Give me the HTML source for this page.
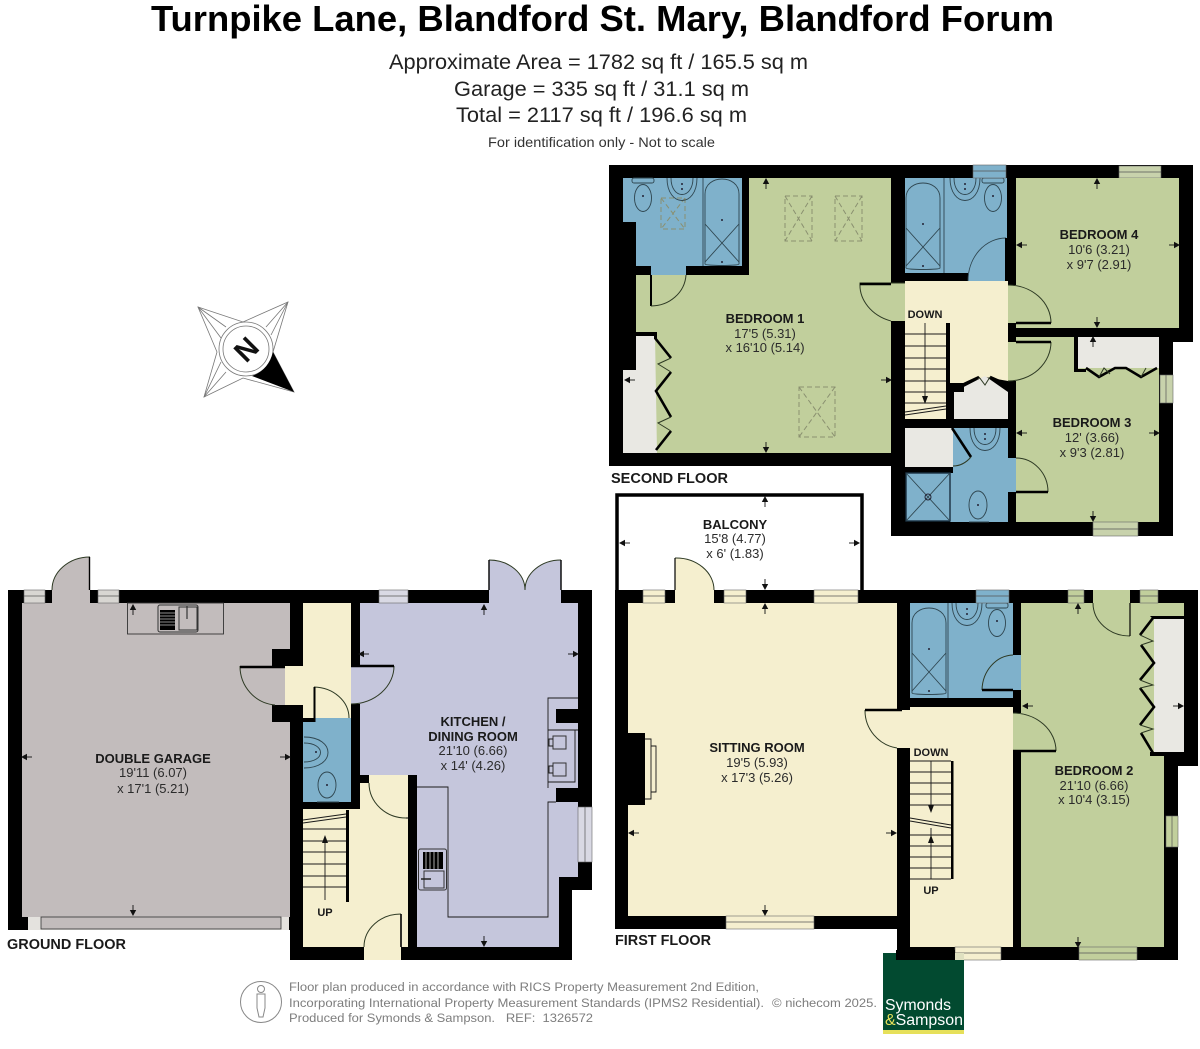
<!DOCTYPE html>
<html><head><meta charset="utf-8"><style>
html,body{margin:0;padding:0;background:#fff;width:1200px;height:1049px;overflow:hidden}
svg{display:block}
text{font-family:"Liberation Sans",sans-serif}
.t{font-size:13px;fill:#2b2b2b;text-anchor:middle}
.b{font-size:13px;font-weight:bold;fill:#1a1a1a;text-anchor:middle}
.f{font-size:14.5px;font-weight:bold;fill:#1a1a1a}
.g{font-size:12.4px;fill:#7d7d7d}
.l{fill:none;stroke:#1a1a1a;stroke-width:.9}
.d{fill:none;stroke:#2e3a24;stroke-width:1}
.k{fill:none;stroke:#000;stroke-width:2.6}
.n{fill:none;stroke:#2f4650;stroke-width:.9}
.sky{fill:none;stroke:#8a9070;stroke-width:1;stroke-dasharray:5 3}
.w{stroke:#555;stroke-width:.7}
.o{stroke:#666;stroke-width:.6}
</style></head><body>
<svg width="1200" height="1049" viewBox="0 0 1200 1049" xmlns="http://www.w3.org/2000/svg">
<defs>
<g id="au"><path d="M0,-5 L3.2,1 H-3.2Z" fill="#111"/><path d="M0,0V6" stroke="#111" stroke-width=".9"/></g>
<g id="ad"><path d="M0,5 L3.2,-1 H-3.2Z" fill="#111"/><path d="M0,0V-6" stroke="#111" stroke-width=".9"/></g>
<g id="al"><path d="M-5,0 L1,3.2 V-3.2Z" fill="#111"/><path d="M0,0H6" stroke="#111" stroke-width=".9"/></g>
<g id="ar"><path d="M5,0 L-1,3.2 V-3.2Z" fill="#111"/><path d="M0,0H-6" stroke="#111" stroke-width=".9"/></g>
<g id="bath"><path class="n" d="M0,86V16C0,-4 34,-4 34,16V86C34,88 0,88 0,86Z"/><path class="n" d="M0,84L34,46M34,84L0,46"/><circle cx="17" cy="42" r="1" fill="#223"/><circle cx="17" cy="84" r="1" fill="#223"/></g>
<g id="toilet"><rect class="n" x="-11" y="0" width="22" height="5" rx="2"/><ellipse class="n" cx="0" cy="20" rx="8.5" ry="13.5"/><circle cx="0" cy="18" r="1" fill="#223"/></g>
<g id="basin"><path class="n" d="M-15,0C-15,30 15,30 15,0"/><path class="n" d="M-11,0C-11,22 11,22 11,0"/><circle cx="0" cy="6" r="1" fill="#223"/><circle cx="0" cy="11" r="1" fill="#223"/></g>
</defs>

<!-- TITLE -->
<text x="151" y="31" font-size="36" font-weight="bold" fill="#000" textLength="903" lengthAdjust="spacingAndGlyphs">Turnpike Lane, Blandford St. Mary, Blandford Forum</text>
<text x="389" y="69" font-size="21" fill="#222" textLength="419" lengthAdjust="spacingAndGlyphs">Approximate Area = 1782 sq ft / 165.5 sq m</text>
<text x="454" y="96" font-size="21" fill="#222" textLength="295" lengthAdjust="spacingAndGlyphs">Garage = 335 sq ft / 31.1 sq m</text>
<text x="456" y="122" font-size="21" fill="#222" textLength="291" lengthAdjust="spacingAndGlyphs">Total = 2117 sq ft / 196.6 sq m</text>
<text x="488" y="147" font-size="14" fill="#333" textLength="227" lengthAdjust="spacingAndGlyphs">For identification only - Not to scale</text>

<!-- COMPASS -->
<g fill="#fff" stroke="#777" stroke-width=".8">
<path d="M198,307L243,322L288,302L273,352L294,392L243,378L204,397L217,352Z"/>
<path fill="none" d="M198,307L226,327M198,307L221,338M288,302L266,327M288,302L271,335M204,397L226,372M204,397L221,362"/>
<circle cx="246" cy="349" r="27" fill="#fff"/><circle cx="246" cy="349" r="23" fill="#fff"/>
</g>
<path d="M294,392L273,352C270,364 263,372 252,376Z" fill="#000"/>
<text x="0" y="0" font-size="29" font-weight="bold" fill="#111" text-anchor="middle" transform="translate(246,349) rotate(-45) translate(0,10.5)">N</text>

<!-- ===== SECOND FLOOR ===== -->
<path d="M609,165H1193V342H1173V536H891V466H609Z" fill="#000"/>
<!-- bedroom 1 -->
<path d="M749,178H891V283H905V321H891V453H623V370H636V275H749Z" fill="#c1cf9c"/>
<path d="M623,178H742V266H686V275H651V266H636V222H623Z" fill="#7fb1cb"/>
<path d="M636,335H655L657,453H623V370H636Z" fill="#e9e8e3"/>
<path d="M636,332H657V339H654V336H636Z" fill="#000"/>
<path class="k" d="M655,338L671,358M671,372L656,391L671,417M671,431L656,450"/>
<path class="d" d="M671,358L658,364L671,372M671,417L658,423L671,431"/>
<path d="M650,275H652V306H650Z" fill="#000"/>
<path class="d" d="M651,306A35,33 0 0 0 686,275"/>
<path class="d" d="M905,283H860A45,38 0 0 0 891,321"/>
<path class="k" d="M860,284H891" stroke-width="1.6"/>
<!-- skylights -->
<g class="sky"><rect x="661" y="198" width="24" height="31"/><path d="M661,198L685,229M685,198L661,229"/>
<rect x="785" y="196" width="27" height="45"/><path d="M785,196L812,241M812,196L785,241"/>
<rect x="835" y="196" width="27" height="45"/><path d="M835,196L862,241M862,196L835,241"/>
<rect x="799" y="387" width="36" height="50"/><path d="M799,387L835,437M835,387L799,437"/></g>
<use href="#toilet" x="643" y="178"/><use href="#basin" x="682" y="178"/>
<use href="#bath" x="705" y="178"/>
<path class="n" d="M703,178V266"/>
<!-- bath 2 -->
<path d="M905,178H1007V281H968V273H905Z" fill="#7fb1cb"/>
<use href="#bath" x="906" y="182"/><path class="n" d="M944,178V273"/>
<use href="#basin" x="965" y="178"/><use href="#toilet" x="993" y="178"/>
<path class="n" d="M1006,238A38,43 0 0 0 968,281" stroke="#222"/>
<path d="M1005,238H1007V281H1005Z" fill="#000"/>
<!-- windows top -->
<rect class="o" x="973" y="165" width="33" height="13" fill="#7fb1cb"/><path class="w" d="M973,171H1006"/>
<rect class="o" x="1119" y="166" width="42" height="12" fill="#c8d2ac"/><path class="w" d="M1119,172H1161"/>
<!-- hall -->
<path d="M905,281H1008V381L985,377L964,383H950V323H905Z" fill="#f5efcf"/>
<rect x="905" y="323" width="41" height="96" fill="#f5efcf"/>
<path class="l" d="M905,334H946M905,346H946M905,358H946M905,369H946M905,381H946M905,392H946M905,403H946M925,323V398"/>
<path d="M925,404L922,396H928Z" fill="#111"/>
<path class="l" d="M905,412L946,406M905,415L946,409"/>
<path d="M954,392L985,376L1008,392V419H954Z" fill="#e9e8e3"/>
<path d="M950,383H964V392H954V419H950Z" fill="#000"/>
<path class="k" d="M964,384L979,377M1006,384L990,377" stroke-width="1.8"/><path class="d" d="M979,377L985,385L990,377"/>
<!-- bedroom 4 -->
<path d="M1016,178H1179V328H1016V323H1008V285H1016Z" fill="#c1cf9c"/>
<path class="d" d="M1008,285A43,38 0 0 1 1051,323"/>
<path class="k" d="M1016,323H1051" stroke-width="1.8"/>
<!-- bedroom 3 -->
<path d="M1016,337H1159V522H1016V492H1016V458H1016V381H1008V342H1016Z" fill="#c1cf9c"/>
<path d="M1078,337H1159V368H1078Z" fill="#e9e8e3"/>
<path d="M1074,337H1078V369H1086V372H1074Z" fill="#000"/>
<path class="k" d="M1086,368L1099,377L1115,368H1126L1141,377L1157,368"/>
<path class="d" d="M1099,377L1104,368L1110,374M1141,377L1146,368"/>
<path class="d" d="M1051,342A43,39 0 0 1 1008,381"/>
<path class="k" d="M1016,342H1051" stroke-width="1.8"/>
<rect class="o" x="1160" y="375" width="13" height="28" fill="#c8d2ac"/><path class="w" d="M1166,375V403"/>
<rect class="o" x="1093" y="522" width="45" height="14" fill="#c8d2ac"/><path class="w" d="M1093,529H1138"/>
<!-- lower bath -->
<rect x="905" y="428" width="48" height="39" fill="#e9e8e3"/>
<path d="M953,428H1008V458H1016V492H1008V522H950V473H953Z" fill="#7fb1cb"/>
<rect x="906" y="473" width="44" height="48" fill="#7fb1cb" stroke="#1a3040" stroke-width="1.4"/>
<path class="n" d="M906,473L950,521M950,473L906,521"/><circle cx="928" cy="497" r="3" fill="none" stroke="#223"/>
<path class="k" d="M952,428L971,457"/><path class="d" d="M971,457C965,464 958,466 953,466"/>
<use href="#basin" x="985" y="428"/>
<path class="n" d="M969,522H989"/><ellipse class="n" cx="978" cy="505" rx="9" ry="14"/><circle cx="978" cy="505" r="1" fill="#223"/>
<path class="d" d="M1016,458A32,34 0 0 1 1048,492"/>
<path class="k" d="M1016,492H1048" stroke-width="1.8"/>

<!-- ===== BALCONY ===== -->
<path d="M617,590V495H862V590" fill="#fff" stroke="#000" stroke-width="3.5"/>

<!-- ===== FIRST FLOOR ===== -->
<path d="M615,590H1198V766H1178V960H897V929H615Z" fill="#000"/>
<rect x="628" y="603" width="269" height="313" fill="#f5efcf"/>
<rect x="628" y="733" width="17" height="72" fill="#000"/>
<path class="l" d="M645,739H651V799H645M651,746H656V792H651"/>
<rect x="897" y="710" width="13" height="38" fill="#f5efcf"/>
<path class="d" d="M865,710A38,38 0 0 0 897,748"/><path class="k" d="M865,710H902" stroke-width="2"/>
<!-- windows first top -->
<g fill="#f5efcf" class="o"><rect x="643" y="590" width="22" height="13"/><rect x="724" y="590" width="22" height="13"/><rect x="814" y="590" width="44" height="13"/><rect x="726" y="916" width="88" height="13"/></g>
<rect x="675" y="590" width="39" height="13" fill="#f5efcf"/>
<path class="w" d="M643,596H665M724,596H746M814,596H858M726,922H814"/>
<path d="M675,558V590H714A38,32 0 0 0 675,558Z" fill="#f5efcf"/><path class="d" d="M675,558A38,32 0 0 1 714,590"/>
<path d="M675,558V590" stroke="#000" stroke-width="1.2"/>
<!-- bath -->
<path d="M910,603H1013V655H1021V690H1013V698H910Z" fill="#7fb1cb"/>
<use href="#bath" x="912" y="607"/><path class="n" d="M948,603V698"/>
<use href="#basin" x="967" y="603"/><use href="#toilet" x="997" y="603"/>
<rect class="o" x="976" y="590" width="33" height="13" fill="#7fb1cb"/><path class="w" d="M976,596H1009"/>
<path class="d" d="M982,690A32,36 0 0 1 1013,655"/><path class="k" d="M982,690H1013" stroke-width="2"/>
<!-- hall -->
<path d="M910,707H1013V947H910Z" fill="#f5efcf"/>
<path d="M951,761H953.5V879H951Z" fill="#000"/>
<path class="l" d="M910,761H951M910,772H951M910,783H951M910,794H951M910,805H951M910,835H951M910,846H951M910,857H951M910,868H951M910,879H951M931,761V808M931,828V879"/>
<path d="M931,813L928,805H934Z" fill="#111"/><path d="M931,835L928,843H934Z" fill="#111"/>
<path class="l" d="M910,818L951,825M910,821L951,828"/>
<rect class="o" x="955" y="947" width="46" height="13" fill="#f5efcf"/><path class="w" d="M955,953H1001"/>
<!-- bedroom 2 -->
<path d="M1021,603H1184V756H1164V947H1021V751H1013V713H1021Z" fill="#c1cf9c"/>
<path d="M1154,618H1184V753H1154Z" fill="#e9e8e3"/>
<path d="M1150,616H1184V619H1153ZM1150,752H1184V756H1150Z" fill="#000"/>
<path class="k" d="M1153,618L1140,635M1141,645L1154,663L1140,680M1140,688L1154,707L1140,725M1141,733L1153,753" stroke-width="2.2"/>
<path class="d" d="M1140,635L1153,641L1141,645M1140,680L1153,685L1140,688M1140,725L1153,729L1141,733"/>
<path d="M1130,603V636A37,33 0 0 1 1093,603Z" fill="#c1cf9c"/><path class="d" d="M1093,603A37,33 0 0 0 1130,636"/><path d="M1130,603V636" stroke="#000" stroke-width="1.2"/>
<g fill="#c1cf9c"><rect class="o" x="1068" y="590" width="16" height="13"/><rect x="1093" y="590" width="37" height="13"/><rect class="o" x="1140" y="590" width="18" height="13"/><rect class="o" x="1166" y="816" width="12" height="31"/><rect class="o" x="1079" y="947" width="58" height="13"/></g>
<path class="w" d="M1068,596H1084M1140,596H1158M1172,816V847M1079,953H1137"/>
<path class="d" d="M1013,713A43,38 0 0 1 1056,751"/><path class="k" d="M1013,751H1056" stroke-width="2"/>

<!-- ===== GROUND FLOOR ===== -->
<path d="M8,590H592V890H572V960H290V930H8Z" fill="#000"/>
<!-- garage -->
<path d="M22,603H290V649H272V666H290V705H272V722H290V917H22Z" fill="#c2bcbc"/>
<rect x="28" y="917" width="261" height="13" fill="#e4e2de"/>
<rect x="41" y="917" width="240" height="12" fill="#c2bcbc" stroke="#333" stroke-width=".8"/>
<path d="M52,590A38,33 0 0 1 90,557V603H52Z" fill="#c2bcbc"/><path class="d" d="M52,590A38,33 0 0 1 90,557"/>
<path d="M89.5,557V590" stroke="#000" stroke-width="1.4"/>
<g fill="#d8d6d2" class="o"><rect x="24" y="590" width="21" height="13"/><rect x="98" y="590" width="21" height="13"/></g>
<path class="w" d="M24,596H45M98,596H119"/>
<rect x="127.500" y="603" width="96" height="31" fill="none" stroke="#333" stroke-width=".9"/>
<rect x="158" y="605" width="40" height="27" rx="2" fill="#c2bcbc" stroke="#333"/>
<rect x="160" y="610" width="15" height="20" fill="#000"/><path d="M160,613H175M160,616H175M160,619H175M160,622H175M160,625H175" stroke="#bbb" stroke-width=".8"/>
<rect x="179" y="607" width="18" height="23" fill="none" stroke="#333"/><path d="M187,606V619" stroke="#333" stroke-width="1.2"/>
<path class="d" d="M240,666A38,39 0 0 0 275,705"/><path class="k" d="M240,667H290" stroke-width="2"/>
<rect x="285" y="666" width="18" height="39" fill="#f5efcf"/>
<!-- hall top -->
<rect x="303" y="603" width="48" height="115" fill="#f5efcf"/>
<path class="d" d="M314,687A36,31 0 0 1 349,718"/><path d="M313.500,687H315.500V722H303V718H313.500Z" fill="#000"/>
<path d="M315.500,718H351V802H303V722H315.500Z" fill="#7fb1cb"/>
<path class="n" d="M304,737C336,737 336,768 304,768M304,743C326,743 326,762 304,762"/><circle cx="316" cy="752" r="1" fill="#223"/>
<path class="n" d="M317,802H339"/><ellipse class="n" cx="327" cy="785" rx="9" ry="13"/><circle cx="327" cy="785" r="1" fill="#223"/>
<!-- kitchen -->
<path d="M360,603H578V862H578V877H559V947H417V775H360Z" fill="#c5c6dc"/>
<rect x="351" y="666" width="9" height="38" fill="#c5c6dc"/>
<path d="M578,709H556V723H578ZM578,788H556V802H578Z" fill="#000"/>
<path d="M578,862H592V890H572V877H559V877H578Z" fill="#000"/>
<rect class="o" x="578" y="807" width="14" height="55" fill="#d9d9e4"/><path class="w" d="M585,807V862"/>
<path class="l" d="M578,698H548V788M578,730H548M575,730V782H548"/>
<path class="l" d="M556,802H548V917H448V787H417"/>
<rect x="553" y="736" width="13" height="13" fill="none" stroke="#333"/><rect x="553" y="763" width="13" height="13" fill="none" stroke="#333"/><path class="l" d="M553,739H549V746H553M553,766H549V773H553"/>
<rect x="418.500" y="849" width="28" height="41" rx="2" fill="#c5c6dc" stroke="#333"/>
<rect x="423" y="852" width="20" height="17" fill="#000"/><path d="M426,852V869M430,852V869M434,852V869M438,852V869" stroke="#aaa" stroke-width="1"/>
<rect x="424" y="871" width="20" height="17" fill="none" stroke="#333"/><path d="M421,879H431" stroke="#222" stroke-width="1.5"/>
<path class="d" d="M394,666A44,38 0 0 1 351,704"/><path class="k" d="M351,666H394" stroke-width="2"/>
<path d="M489,590V560A36,30 0 0 1 525,590A36,30 0 0 1 561,560V603H489Z" fill="#c5c6dc"/>
<path class="d" d="M489,560A36,30 0 0 1 525,590A36,30 0 0 1 561,560"/>
<path d="M489,560V590M561,560V590" stroke="#000" stroke-width="1.4"/>
<rect class="o" x="379" y="590" width="29" height="13" fill="#d9d9e4"/><path class="w" d="M379,596H408"/>
<!-- entrance hall -->
<path d="M369,775H408V947H303V809H351V809H360V783H369Z" fill="#f5efcf"/>
<rect x="303" y="810" width="43" height="92" fill="#f5efcf"/><path d="M346,810H349V902H346Z" fill="#000"/>
<path class="l" d="M303,829H346M303,841H346M303,852H346M303,864H346M303,876H346M303,887H346M325,838V900"/>
<path d="M325,835L322,843H328Z" fill="#111"/><path class="l" d="M303,820L346,814M303,823L346,817"/>
<path class="d" d="M369,783A37,35 0 0 0 406,818"/><path d="M406,818H408" stroke="#000"/>
<rect x="364" y="947" width="37" height="13" fill="#f5efcf"/>
<path class="d" d="M364,947A37,33 0 0 1 401,914"/><path d="M401,914V947" stroke="#000" stroke-width="1.6"/>

<!-- ARROWS -->
<use href="#au" x="766" y="183"/><use href="#ad" x="766" y="448"/><use href="#al" x="629" y="380"/><use href="#ar" x="887" y="380"/>
<use href="#au" x="1097" y="183"/><use href="#ad" x="1097" y="323"/><use href="#al" x="1021" y="245"/><use href="#ar" x="1175" y="245"/>
<use href="#au" x="1093" y="341"/><use href="#ad" x="1093" y="517"/><use href="#al" x="1021" y="433"/><use href="#ar" x="1155" y="433"/>
<use href="#au" x="765" y="501"/><use href="#ad" x="765" y="585"/><use href="#al" x="624" y="543"/><use href="#ar" x="855" y="543"/>
<use href="#au" x="765" y="608"/><use href="#ad" x="765" y="911"/><use href="#al" x="633" y="833"/><use href="#ar" x="892" y="833"/>
<use href="#au" x="1078" y="608"/><use href="#ad" x="1078" y="943"/><use href="#al" x="1027" y="706"/><use href="#ar" x="1179" y="706"/>
<use href="#au" x="133" y="609"/><use href="#ad" x="133" y="911"/><use href="#al" x="26" y="757"/><use href="#ar" x="286" y="757"/>
<use href="#au" x="484" y="609"/><use href="#ad" x="484" y="942"/><use href="#al" x="363" y="654"/><use href="#ar" x="574" y="654"/>

<!-- LABELS -->
<text class="b" x="765" y="323">BEDROOM 1</text><text class="t" x="765" y="338">17'5 (5.31)</text><text class="t" x="765" y="352">x 16'10 (5.14)</text>
<text class="b" x="1099" y="239">BEDROOM 4</text><text class="t" x="1099" y="254">10'6 (3.21)</text><text class="t" x="1099" y="269">x 9'7 (2.91)</text>
<text class="b" x="1092" y="427">BEDROOM 3</text><text class="t" x="1092" y="442">12' (3.66)</text><text class="t" x="1092" y="457">x 9'3 (2.81)</text>
<text class="b" x="735" y="529">BALCONY</text><text class="t" x="735" y="543">15'8 (4.77)</text><text class="t" x="735" y="558">x 6' (1.83)</text>
<text class="b" x="757" y="752">SITTING ROOM</text><text class="t" x="757" y="767">19'5 (5.93)</text><text class="t" x="757" y="782">x 17'3 (5.26)</text>
<text class="b" x="1094" y="775">BEDROOM 2</text><text class="t" x="1094" y="790">21'10 (6.66)</text><text class="t" x="1094" y="804">x 10'4 (3.15)</text>
<text class="b" x="473" y="726">KITCHEN /</text><text class="b" x="473" y="741">DINING ROOM</text><text class="t" x="473" y="755">21'10 (6.66)</text><text class="t" x="473" y="770">x 14' (4.26)</text>
<text class="b" x="153" y="763">DOUBLE GARAGE</text><text class="t" x="153" y="777">19'11 (6.07)</text><text class="t" x="153" y="793">x 17'1 (5.21)</text>
<text class="b" x="925" y="318" style="font-size:11px">DOWN</text>
<text class="b" x="931" y="756" style="font-size:11px">DOWN</text>
<text class="b" x="931" y="894" style="font-size:11px">UP</text>
<text class="b" x="325" y="916" style="font-size:11px">UP</text>
<text class="f" x="611" y="483" textLength="117" lengthAdjust="spacingAndGlyphs">SECOND FLOOR</text>
<text class="f" x="615" y="945" textLength="96" lengthAdjust="spacingAndGlyphs">FIRST FLOOR</text>
<text class="f" x="7" y="949" textLength="119" lengthAdjust="spacingAndGlyphs">GROUND FLOOR</text>

<!-- LOGO -->
<rect x="883" y="953" width="81" height="77" fill="#024a30"/>
<rect x="883" y="1030" width="81" height="4" fill="#e6e05a"/>
<path d="M896,950H955V960H896Z" fill="#000"/>
<rect x="955" y="953" width="9" height="7" fill="#dfe0c0"/>
<text x="885" y="1010" font-size="15.500" fill="#fff" textLength="66" lengthAdjust="spacingAndGlyphs">Symonds</text>
<text x="885" y="1025" font-size="15.500" fill="#fff" textLength="78" lengthAdjust="spacingAndGlyphs"><tspan fill="#e6e05a">&amp;</tspan>Sampson</text>

<!-- FOOTER -->
<circle cx="261" cy="1002" r="20.500" fill="none" stroke="#888" stroke-width="1"/>
<circle cx="261" cy="989" r="3.500" fill="none" stroke="#888"/>
<path d="M257,994H265V1008L263,1017H259L257,1008Z" fill="none" stroke="#888"/>
<text class="g" x="289" y="991" textLength="470" lengthAdjust="spacingAndGlyphs">Floor plan produced in accordance with RICS Property Measurement 2nd Edition,</text>
<text class="g" x="289" y="1007" textLength="475" lengthAdjust="spacingAndGlyphs">Incorporating International Property Measurement Standards (IPMS2 Residential).</text>
<text class="g" x="772" y="1007" textLength="105" lengthAdjust="spacingAndGlyphs">© nichecom 2025.</text>
<text class="g" x="289" y="1022" textLength="304" lengthAdjust="spacingAndGlyphs" xml:space="preserve">Produced for Symonds &amp; Sampson.   REF:  1326572</text>
</svg>
</body></html>
